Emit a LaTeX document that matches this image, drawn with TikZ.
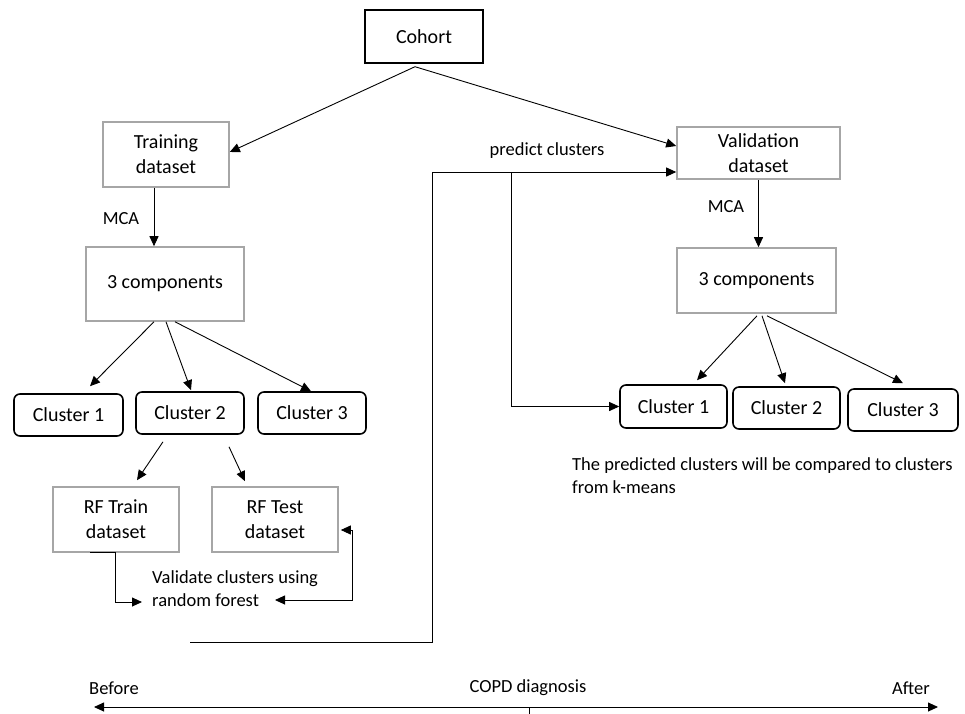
\documentclass[tikz,border=0pt]{standalone}
\usepackage{fontspec}
\setmainfont{Carlito}
\usetikzlibrary{arrows.meta,calc}
\definecolor{boxgray}{HTML}{A6A6A6}
\tikzset{
  graybox/.style={draw=boxgray,line width=1.6pt,fill=white,align=center,inner sep=0pt,
    font=\fontsize{20}{25}\selectfont},
  blackbox/.style={draw=black,line width=1.4pt,fill=white,align=center,inner sep=0pt,
    font=\fontsize{20}{25}\selectfont},
  clusterbox/.style={draw=black,line width=1.6pt,rounded corners=6pt,fill=white,align=center,
    inner sep=0pt,font=\fontsize{20}{25}\selectfont},
  lbl/.style={inner sep=0pt,font=\fontsize{18.5}{23}\selectfont},
  arr/.style={line width=0.9pt,-{Triangle[length=10pt,width=9pt]}},
  ln/.style={line width=0.9pt},
}
\begin{document}
\begin{tikzpicture}[x=1pt,y=-1pt]
\useasboundingbox (0,0) rectangle (965,713);

% nodes
\node[blackbox,minimum width=118pt,minimum height=53pt] (cohort) at (424,36.5) {Cohort};
\node[graybox,minimum width=126pt,minimum height=65pt] (train) at (166,154.5) {Training\\dataset};
\node[graybox,minimum width=163pt,minimum height=52pt] (valid) at (758.5,153) {Validation\\dataset};
\node[graybox,minimum width=158pt,minimum height=74pt] (tl3) at (165,284) {3 components};
\node[graybox,minimum width=159pt,minimum height=65pt] (tr3) at (756.5,280.5) {3 components};

\node[clusterbox,minimum width=109pt,minimum height=42pt] (lc1) at (68.5,415) {Cluster 1};
\node[clusterbox,minimum width=108pt,minimum height=42pt] (lc2) at (190,413) {Cluster 2};
\node[clusterbox,minimum width=108pt,minimum height=42pt] (lc3) at (312,413) {Cluster 3};

\node[graybox,minimum width=126pt,minimum height=65pt] (rftrain) at (116,519.5) {RF Train\\dataset};
\node[graybox,minimum width=126pt,minimum height=65pt] (rftest) at (275,519.5) {RF Test\\dataset};

\node[clusterbox,minimum width=107pt,minimum height=43pt] (rc1) at (673.5,406.5) {Cluster 1};
\node[clusterbox,minimum width=107pt,minimum height=42pt] (rc2) at (786.5,408) {Cluster 2};
\node[clusterbox,minimum width=110pt,minimum height=42pt] (rc3) at (903,410) {Cluster 3};

% labels
\node[lbl] (mcal) at (121,219) {MCA};
\node[lbl] (mcar) at (726,207) {MCA};
\node[lbl] (pred) at (547,151) {predict clusters};
\node[lbl,anchor=west,align=left] (vtext) at (152,588.5) {Validate clusters using\\random forest};
\node[lbl,anchor=west,align=left] (ptext) at (572,476) {The predicted clusters will be compared to clusters\\from k-means};
\node[lbl] (before) at (114,688) {Before};
\node[lbl] (copd) at (528,688) {COPD diagnosis};
\node[lbl] (after) at (911,688) {After};

% helper coordinates
\coordinate (vtl) at (142,602);
\coordinate (vtr) at (275,600);
\coordinate (pstart) at (190,642);
\coordinate (pcorner) at (432,642);
\coordinate (pb) at (511,172);
\coordinate (tlstart) at (94,707);
\coordinate (tlend) at (938,707);
\coordinate (tick) at (529,707);

% connectors top
\draw[arr] ([xshift=-9pt,yshift=-3pt]cohort.south) -- ([yshift=2.5pt]train.east);
\draw[arr] ([xshift=-9pt,yshift=-3pt]cohort.south) -- ([yshift=7pt]valid.west);
\draw[arr] ([xshift=-12pt]train.south) -- ([xshift=-12pt]train.south |- tl3.north);
\draw[arr] (valid.south) -- (valid.south |- tr3.north);

% left tree
\draw[arr] ([xshift=-11pt]tl3.south) -- ([xshift=21.5pt,yshift=7pt]lc1.north);
\draw[arr] ([xshift=1pt]tl3.south) -- ([xshift=1pt,yshift=1pt]lc2.north);
\draw[arr] ([xshift=10pt]tl3.south) -- ([xshift=-1pt]lc3.north);
\draw[arr] ([xshift=-27pt,yshift=-7pt]lc2.south) -- ([xshift=21pt,yshift=6pt]rftrain.north);
\draw[arr] ([xshift=39pt,yshift=-12pt]lc2.south) -- ([xshift=-30pt,yshift=5pt]rftest.north);

% random forest loops
\draw[arr] ([xshift=-26pt]rftrain.south) -- ([xshift=-1pt]rftrain.south) |- (vtl);
\draw[ln,{Triangle[length=10pt,width=9pt]}-{Triangle[length=10pt,width=9pt]}]
  (vtr) -- ++(77,0) |- ([xshift=2pt,yshift=-10.5pt]rftest.east);

% predict clusters
\draw[arr] (pstart) -- (pcorner) |- ([yshift=-19pt]valid.west);
\draw[arr] (pb) |- (rc1.west);

% right tree
\draw[arr] ([xshift=0.5pt,yshift=-2pt]tr3.south) -- ([xshift=23.5pt,yshift=4pt]rc1.north);
\draw[arr] ([xshift=5.5pt,yshift=-2pt]tr3.south) -- ([xshift=-1.5pt,yshift=3pt]rc2.north);
\draw[arr] ([xshift=10.5pt,yshift=-2pt]tr3.south) -- ([yshift=5pt]rc3.north);

% timeline
\draw[ln,{Triangle[length=10pt,width=9pt]}-{Triangle[length=10pt,width=9pt]}] (tlstart) -- (tlend);
\draw[line width=0.6pt] (tick) -- ++(0,9);
\end{tikzpicture}
\end{document}
